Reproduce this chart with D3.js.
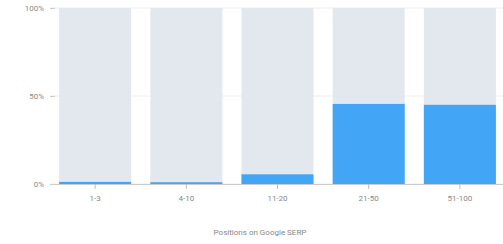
<!DOCTYPE html>
<html>
<head>
<meta charset="utf-8">
<script src="https://cdn.jsdelivr.net/npm/d3@7"></script>
<style>
  body { margin: 0; background: #fff; }
  text { font-family: Roboto, sans-serif; }
</style>
</head>
<body>
<svg width="503" height="244"></svg>
<script>
const categories = ["1-3", "4-10", "11-20", "21-50", "51-100"];
const shares = [1.2, 1.0, 5.5, 45.5, 45];
const yTicks = [0, 50, 100];
const axisTitle = "Positions on Google SERP";

const svg = d3.select("svg");
const x = d3.scaleBand(categories, [50, 505]).paddingInner(0.21).paddingOuter(0.1);
const y = d3.scaleLinear([0, 100], [184, 8]);

// faint gridlines
svg.append("g")
  .selectAll("line")
  .data(yTicks)
  .join("line")
  .attr("x1", 50).attr("x2", 503)
  .attr("y1", (d) => y(d)).attr("y2", (d) => y(d))
  .attr("stroke", "#eeeeee");

// background bars
svg.append("g")
  .selectAll("rect")
  .data(categories)
  .join("rect")
  .attr("x", (d) => x(d))
  .attr("y", y(100))
  .attr("width", x.bandwidth())
  .attr("height", y(0) - y(100))
  .attr("fill", "#e3e8ef");

// value bars
svg.append("g")
  .selectAll("rect")
  .data(shares)
  .join("rect")
  .attr("x", (d, i) => x(categories[i]))
  .attr("y", (d) => y(d))
  .attr("width", x.bandwidth())
  .attr("height", (d) => y(0) - y(d))
  .attr("fill", "#42a5f5");

const axisY = d3.axisLeft(y).tickValues(yTicks).tickFormat((d) => d + "%").tickSize(5).tickPadding(6);
const gy = svg.append("g").attr("transform", "translate(55,0)").call(axisY);
gy.select(".domain").remove();
gy.selectAll("line").attr("stroke", "#cccccc");
gy.selectAll("text").attr("fill", "#888").style("font-size", "8px");

const axisX = d3.axisBottom(x).tickSize(5).tickPadding(6).tickSizeOuter(0);
const gx = svg.append("g").attr("transform", "translate(0,184)").call(axisX);
gx.select(".domain").attr("stroke", "#cccccc");
gx.selectAll("line").attr("stroke", "#bbbbbb");
gx.selectAll("text").attr("fill", "#888").style("font-size", "8px");

svg.append("text")
  .attr("x", 260)
  .attr("y", 235)
  .attr("text-anchor", "middle")
  .attr("fill", "#888")
  .style("font-size", "8px")
  .text(axisTitle);
</script>
</body>
</html>
